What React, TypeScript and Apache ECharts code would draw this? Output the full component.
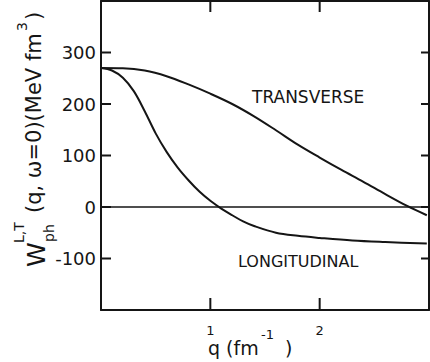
import React, { useEffect, useRef } from "react";
import * as echarts from "echarts";

const TRANSVERSE: [number, number][] = [
  [0, 270], [0.2, 269.5], [0.4, 265], [0.6, 254], [0.8, 238], [1.0, 220],
  [1.2, 200], [1.4, 176], [1.6, 149], [1.8, 121], [2.0, 96], [2.2, 72],
  [2.4, 49], [2.6, 25], [2.8, 2], [2.98, -16],
];

const LONGITUDINAL: [number, number][] = [
  [0, 270], [0.1, 265], [0.2, 251], [0.3, 225], [0.4, 186], [0.5, 143],
  [0.6, 107], [0.7, 77], [0.8, 52], [0.9, 30], [1.0, 12], [1.1, -3],
  [1.2, -16], [1.3, -28], [1.4, -37], [1.6, -50], [1.8, -56], [2.0, -60],
  [2.3, -65], [2.6, -68], [2.98, -71],
];

const ZERO_LINE: [number, number][] = [[0, 0], [3, 0]];

const X_MIN = 0;
const X_MAX = 3;
const Y_MIN = -200;
const Y_MAX = 400;
const X_TICK_LABELS = [1, 2];
const Y_TICK_LABELS = [300, 200, 100, 0, -100];
const X_TICKS = [1, 2];
const Y_TICKS = [300, 200, 100, 0, -100];

// tick anchors: [x, y, side] with side 0=bottom, 1=top, 2=left, 3=right
const TICK_ITEMS: number[][] = [
  ...X_TICKS.map((v) => [v, Y_MIN, 0]),
  ...X_TICKS.map((v) => [v, Y_MAX, 1]),
  ...Y_TICKS.map((v) => [X_MIN, v, 2]),
  ...Y_TICKS.map((v) => [X_MAX, v, 3]),
];

const INK = "#151515";
const FONT = "DejaVu Sans";

export default function App() {
  const ref = useRef<HTMLDivElement>(null);
  useEffect(() => {
    if (!ref.current) return;
    const chart = echarts.init(ref.current, undefined, { renderer: "svg" });
    const txt = (text: string, x: number, y: number, size: number) => ({
      type: "text",
      x,
      y,
      style: { text, fill: INK, font: `${size}px '${FONT}'`, align: "left", verticalAlign: "middle" },
    });
    const curve = (data: [number, number][]) => ({
      type: "line", data, smooth: 0.35, showSymbol: false,
      lineStyle: { color: INK, width: 2 }, silent: true,
    });
    const axisLine = () => ({ show: true, onZero: false, lineStyle: { color: INK, width: 2 } });
    chart.setOption({
      animation: false,
      backgroundColor: "#ffffff",
      grid: { left: 101, right: 1, top: 1, bottom: 52, outerBoundsMode: "none", containLabel: false },
      xAxis: [
        {
          type: "value", min: X_MIN, max: X_MAX, interval: 1, position: "bottom",
          axisLine: axisLine(), splitLine: { show: false }, axisTick: { show: false },
          axisLabel: {
            show: true, margin: 14, fontSize: 13, fontFamily: FONT, color: INK,
            formatter: (v: number) => (X_TICK_LABELS.includes(v) ? String(v) : ""),
          },
        },
        {
          type: "value", min: X_MIN, max: X_MAX, interval: 1, position: "top",
          axisLine: axisLine(), splitLine: { show: false }, axisTick: { show: false },
          axisLabel: { show: false },
        },
      ],
      yAxis: [
        {
          type: "value", min: Y_MIN, max: Y_MAX, interval: 100, position: "left",
          axisLine: axisLine(), splitLine: { show: false }, axisTick: { show: false },
          axisLabel: {
            show: true, margin: 5, fontSize: 18, fontFamily: FONT, color: INK,
            formatter: (v: number) => (Y_TICK_LABELS.includes(v) ? String(v) : ""),
          },
        },
        {
          type: "value", min: Y_MIN, max: Y_MAX, interval: 100, position: "right",
          axisLine: axisLine(), splitLine: { show: false }, axisTick: { show: false },
          axisLabel: { show: false },
        },
      ],
      series: [
        curve(TRANSVERSE),
        curve(LONGITUDINAL),
        {
          type: "line", data: ZERO_LINE, showSymbol: false,
          lineStyle: { color: INK, width: 1.6 }, silent: true,
        },
        {
          // inward-pointing ticks on all four sides of the frame
          type: "custom", silent: true, clip: false, z: 20,
          data: TICK_ITEMS,
          renderItem: (_p: any, api: any) => {
            const p = api.coord([api.value(0), api.value(1)]);
            const side = api.value(2);
            let shape;
            if (side === 0) shape = { x: p[0] - 1, y: p[1] - 12, width: 2, height: 12 };
            else if (side === 1) shape = { x: p[0] - 1, y: p[1], width: 2, height: 11 };
            else if (side === 2) shape = { x: p[0], y: p[1] - 1, width: 10, height: 2 };
            else shape = { x: p[0] - 8, y: p[1] - 1, width: 8, height: 2 };
            return { type: "rect", shape, style: { fill: INK } };
          },
        },
      ],
      graphic: [
        txt("TRANSVERSE", 252, 96.5, 17),
        txt("LONGITUDINAL", 238, 261.5, 16),
        txt("q (fm", 208, 348, 19),
        txt("-1", 261, 334, 13),
        txt(")", 285, 348, 19),
        {
          type: "group",
          x: 0,
          y: 362,
          rotation: Math.PI / 2,
          children: [
            txt("W", 95, 36, 25),
            txt("L,T", 119, 19, 14),
            txt("ph", 120, 49, 14),
            txt("(q, ω=0)(MeV fm", 149, 34, 21),
            txt("3", 331, 22, 14),
            txt(")", 342, 34, 21),
          ],
        },
      ],
    });
    return () => chart.dispose();
  }, []);
  return (
    <div
      ref={ref}
      style={{ position: "fixed", left: 0, top: 0, width: 430, height: 362, background: "#fff" }}
    />
  );
}
